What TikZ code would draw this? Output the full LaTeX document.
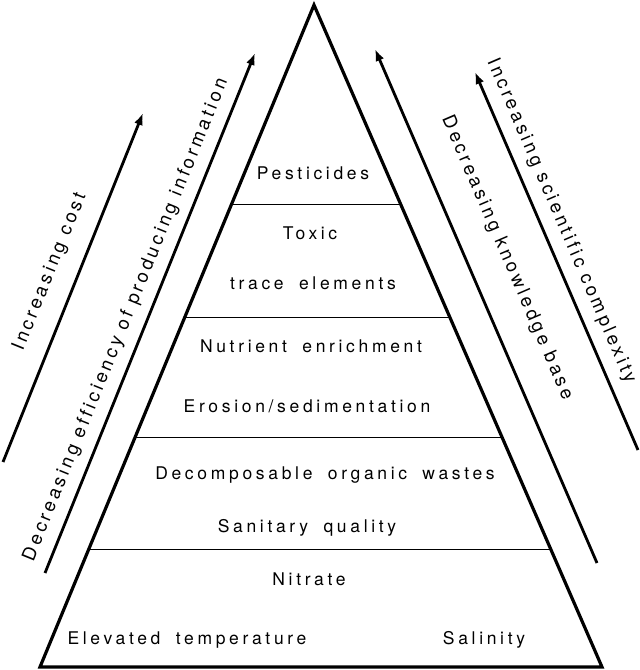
\documentclass[tikz,border=0pt]{standalone}
\usepackage{fontspec}
\setmainfont{TeX Gyre Heros}
\newfontfamily\layerfont[LetterSpace=21,WordSpace=1.8,Ligatures=NoCommon]{TeX Gyre Heros}
\newfontfamily\trendfont[LetterSpace=18,Ligatures=NoCommon]{TeX Gyre Heros}
\usetikzlibrary{arrows.meta,calc}

\begin{document}
\begin{tikzpicture}[x=1pt,y=-1pt,
    layer/.style={font=\layerfont\fontsize{17.5}{20}\selectfont,inner sep=0pt,anchor=base},
    trendlabel/.style={font=\trendfont\fontsize{18.6}{22}\selectfont,inner sep=0pt},
    trend/.style={line width=2.8pt,-{Latex[length=12pt,width=9pt]}},
    band/.style={line width=1pt}]
    \useasboundingbox (0,0) rectangle (640,670);
    % pyramid
    \coordinate (top) at (314,5);
    \coordinate (bl) at (40,667);
    \coordinate (br) at (602,667);
    \draw[line width=3.2pt,line join=miter] (top) -- (br) -- (bl) -- cycle;
    \draw[band] ($(top)!0.3006!(bl)$) -- ($(top)!0.3006!(br)$);
    \draw[band] ($(top)!0.4713!(bl)$) -- ($(top)!0.4713!(br)$);
    \draw[band] ($(top)!0.6526!(bl)$) -- ($(top)!0.6526!(br)$);
    \draw[band] ($(top)!0.8218!(bl)$) -- ($(top)!0.8218!(br)$);
    % layers
    \node[layer] (pest) at (313,179) {Pesticides};
    \node[layer] (toxic) at (310,239) {Toxic};
    \node[layer] (trace) at (313,289) {trace elements};
    \node[layer] (nutr) at (311,352) {Nutrient enrichment};
    \node[layer] (eros) at (307,412) {Erosion/sedimentation};
    \node[layer] (decomp) at (325,479) {Decomposable organic wastes};
    \node[layer] (sanit) at (307,532) {Sanitary quality};
    \node[layer] (nitr) at (309,585) {Nitrate};
    \node[layer] (temp) at (187,644) {Elevated temperature};
    \node[layer] (salin) at (484,644) {Salinity};
    % trends
    \coordinate (costS) at (3,462);
    \coordinate (costE) at (143,113);
    \coordinate (effS) at (45,573);
    \coordinate (effE) at (255,53);
    \coordinate (knowS) at (597,563);
    \coordinate (knowE) at (375,49);
    \coordinate (complS) at (638,450);
    \coordinate (complE) at (475,72);
    \draw[trend] (costS) -- (costE);
    \draw[trend] (effS) -- (effE);
    \draw[trend] (knowS) -- (knowE);
    \draw[trend] (complS) -- (complE);
    \node[trendlabel,rotate=68] (cost) at (50,272) {Increasing cost};
    \node[trendlabel,rotate=68] (eff) at (126,320) {Decreasing efficiency of producing information};
    \node[trendlabel,rotate=-66.7] (know) at (507,258) {Decreasing knowledge base};
    \node[trendlabel,rotate=-66.7] (compl) at (561,221) {Increasing scientific complexity};
\end{tikzpicture}
\end{document}
